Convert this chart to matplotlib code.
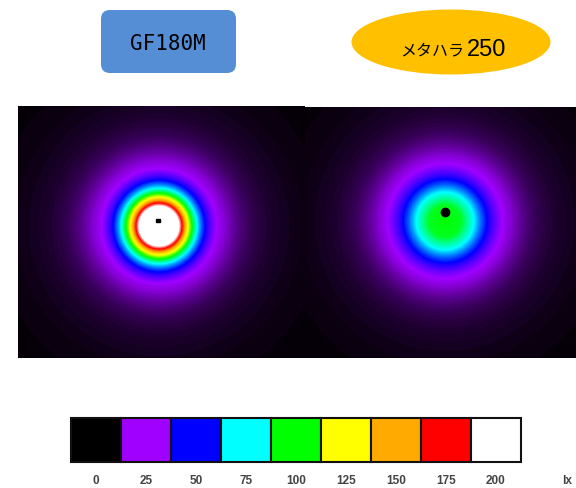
import numpy as np
import matplotlib
matplotlib.use('Agg')
import matplotlib.pyplot as plt
from matplotlib.colors import LinearSegmentedColormap
from matplotlib.patches import FancyBboxPatch, Ellipse, Rectangle

# lux scale of the legend
levels = [0, 25, 50, 75, 100, 125, 150, 175, 200]
level_colors = ['#000000', '#a000ff', '#0000ff', '#00ffff', '#00ff00',
                '#ffff00', '#ffaa00', '#ff0000', '#ffffff']
unit = 'lx'

# radial illuminance profiles (radius in px from the lamp centre, lux)
gf_radius = [0, 20, 23, 26, 29, 33, 38, 46, 58, 66, 76, 90, 110, 140, 190]
gf_lux = [230, 200, 175, 150, 125, 100, 75, 50, 25, 21, 15, 9, 5, 2.5, 1]
mh_radius = [0, 16, 29, 42, 58, 66, 76, 90, 110, 140, 190]
mh_lux = [100, 97, 75, 50, 25, 21, 15, 9, 5, 2.5, 1]

title_left = 'GF180M'
title_right_kana = 'メタハラ'
title_right_num = '250'

cmap = LinearSegmentedColormap.from_list(
    'lux', [(v / levels[-1], c) for v, c in zip(levels, level_colors)])

fig = plt.figure(figsize=(5.76, 4.89), dpi=100)
ax = fig.add_axes([0, 0, 1, 1])
ax.set_xlim(0, 576)
ax.set_ylim(489, 0)
ax.set_aspect('auto')
ax.axis('off')


def draw_panel(x0, x1, y0, y1, cx, cy, radius, lux):
    xs = np.arange(x0, x1) + 0.5
    ys = np.arange(y0, y1) + 0.5
    gx, gy = np.meshgrid(xs, ys)
    r = np.hypot(gx - cx, gy - cy)
    # interpolate in log space so the outer glow fades smoothly
    field = np.exp(np.interp(r, radius, np.log(lux)))
    ax.imshow(field, cmap=cmap, vmin=0, vmax=levels[-1],
              extent=(x0, x1, y1, y0), interpolation='bilinear', aspect='auto')


draw_panel(18, 305, 107, 359, 159, 227, gf_radius, gf_lux)
draw_panel(305, 576, 108, 359, 445, 222, mh_radius, mh_lux)

# lamp positions
ax.add_patch(Rectangle((156, 220), 4, 2.5, color='black', zorder=5))
ax.plot([445], [213], 'o', color='black', markersize=6, zorder=5)

# titles
box = FancyBboxPatch((101, 11), 135, 63, boxstyle='round,pad=0,rounding_size=9',
                     facecolor='#558ed5', edgecolor='none', zorder=3)
ax.add_patch(box)
ax.text(168, 44, title_left, fontsize=15, family='DejaVu Sans Mono',
        ha='center', va='center', zorder=4)

ax.add_patch(Ellipse((451, 43), 199, 65, facecolor='#ffc000', edgecolor='none', zorder=3))
ax.text(464, 55, title_right_kana, fontsize=11.5, family=['Noto Sans CJK JP', 'DejaVu Sans'],
        ha='right', va='baseline', zorder=4)
ax.text(467, 56, title_right_num, fontsize=17,
        family=['Liberation Sans', 'DejaVu Sans'],
        ha='left', va='baseline', zorder=4)

# legend bar
cell_w = 50
bar_x = 71
bar_y = 419
bar_h = 44
for i, (lv, c) in enumerate(zip(levels, level_colors)):
    ax.add_patch(Rectangle((bar_x + i * cell_w, bar_y), cell_w, bar_h,
                           facecolor=c, edgecolor='#111111', linewidth=1.5, zorder=3))
    ax.text(bar_x + i * cell_w + cell_w / 2, 481, str(lv), fontsize=8.5,
            family=['Liberation Sans', 'DejaVu Sans'], weight='bold', color='#444444',
            ha='center', va='center')
ax.text(567, 481, unit, fontsize=8.5, family=['Liberation Sans', 'DejaVu Sans'],
        weight='bold', color='#444444', ha='center', va='center')

fig.savefig('out.png', dpi=100)
